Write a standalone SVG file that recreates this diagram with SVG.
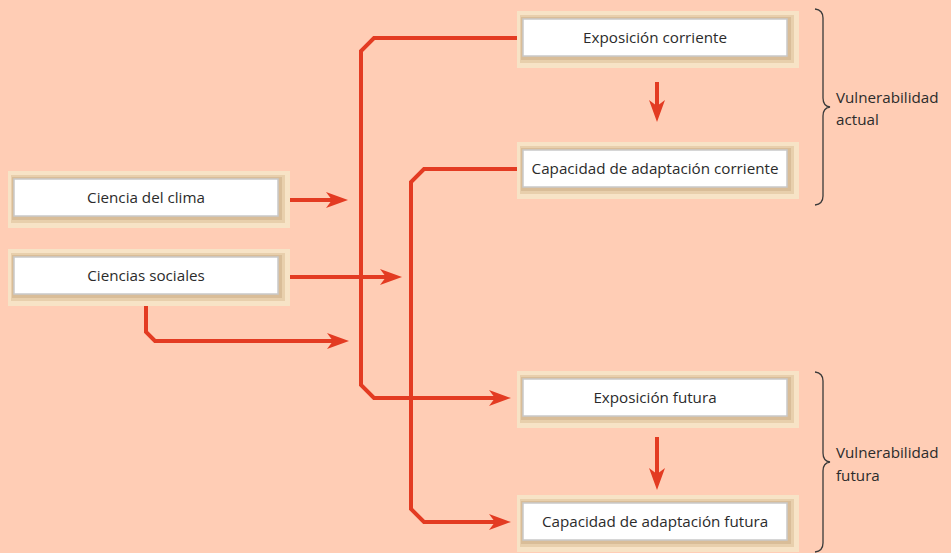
<svg xmlns="http://www.w3.org/2000/svg" xmlns:xlink="http://www.w3.org/1999/xlink" width="951" height="553" viewBox="0 0 951 553">
<style>
.lbl{font-family:"Open Sans","Noto Sans","Liberation Sans",sans-serif;font-size:15.2px;fill:#2b2b2b;text-anchor:middle}
.side{font-family:"Open Sans","Noto Sans","Liberation Sans",sans-serif;font-size:15.2px;fill:#2b2b2b}
.con{fill:none;stroke:#e33b22;stroke-width:4;stroke-linejoin:miter}
.brace{fill:none;stroke:#3a3a3a;stroke-width:1.3}
</style>
<defs>
<marker id="ah" viewBox="0 0 22 16" refX="12" refY="8" markerWidth="22" markerHeight="16" markerUnits="userSpaceOnUse" orient="auto">
<path d="M0,0 L22,8 L0,16 L6,8 Z" fill="#e33b22"/>
</marker>
<g id="frame">
<rect x="0" y="0" width="282" height="57" fill="#f7e3c6"/>
<rect x="3" y="4" width="274" height="48" fill="#e8cfac"/>
<rect x="4" y="6" width="270" height="43" fill="#d9bd98"/>
<rect x="6" y="8" width="264" height="37" fill="#ffffff" stroke="#c9c9c9" stroke-width="1.5"/>
</g>
</defs>
<rect width="951" height="553" fill="#ffcdb5"/>
<g id="connectors">
<path class="con" d="M290,200 H338" marker-end="url(#ah)"/>
<path class="con" d="M290,277 H392" marker-end="url(#ah)"/>
<path class="con" d="M146,306 V332 L155,341 H339" marker-end="url(#ah)"/>
<path class="con" d="M517,38 H374 L361,51 V385 L374,398 H501" marker-end="url(#ah)"/>
<path class="con" d="M517,169 H424 L411,182 V509 L424,522 H501" marker-end="url(#ah)"/>
<path class="con" d="M657,82 V112" marker-end="url(#ah)"/>
<path class="con" d="M657,437 V480" marker-end="url(#ah)"/>
</g>
<g id="n-clima"><use xlink:href="#frame" x="8" y="171"/><text class="lbl" x="146" y="203">Ciencia del clima</text></g>
<g id="n-sociales"><use xlink:href="#frame" x="8" y="249"/><text class="lbl" x="146" y="281">Ciencias sociales</text></g>
<g id="n-expcorr"><use xlink:href="#frame" x="517" y="11"/><text class="lbl" x="655" y="43">Exposición corriente</text></g>
<g id="n-capcorr"><use xlink:href="#frame" x="517" y="142"/><text class="lbl" x="655" y="174">Capacidad de adaptación corriente</text></g>
<g id="n-expfut"><use xlink:href="#frame" x="517" y="371"/><text class="lbl" x="655" y="403">Exposición futura</text></g>
<g id="n-capfut"><use xlink:href="#frame" x="517" y="495"/><text class="lbl" x="655" y="527">Capacidad de adaptación futura</text></g>
<g id="b-actual">
<path class="brace" d="M815,9 Q823,10 823,18 V98 Q823,106 830,107 Q823,108 823,116 V196 Q823,204 815,205"/>
<text class="side" x="836" y="103">Vulnerabilidad</text>
<text class="side" x="836" y="125">actual</text>
</g>
<g id="b-futura">
<path class="brace" d="M815,372 Q823,373 823,381 V453 Q823,461 830,462 Q823,463 823,471 V543 Q823,551 815,552"/>
<text class="side" x="836" y="458">Vulnerabilidad</text>
<text class="side" x="836" y="481">futura</text>
</g>
</svg>
